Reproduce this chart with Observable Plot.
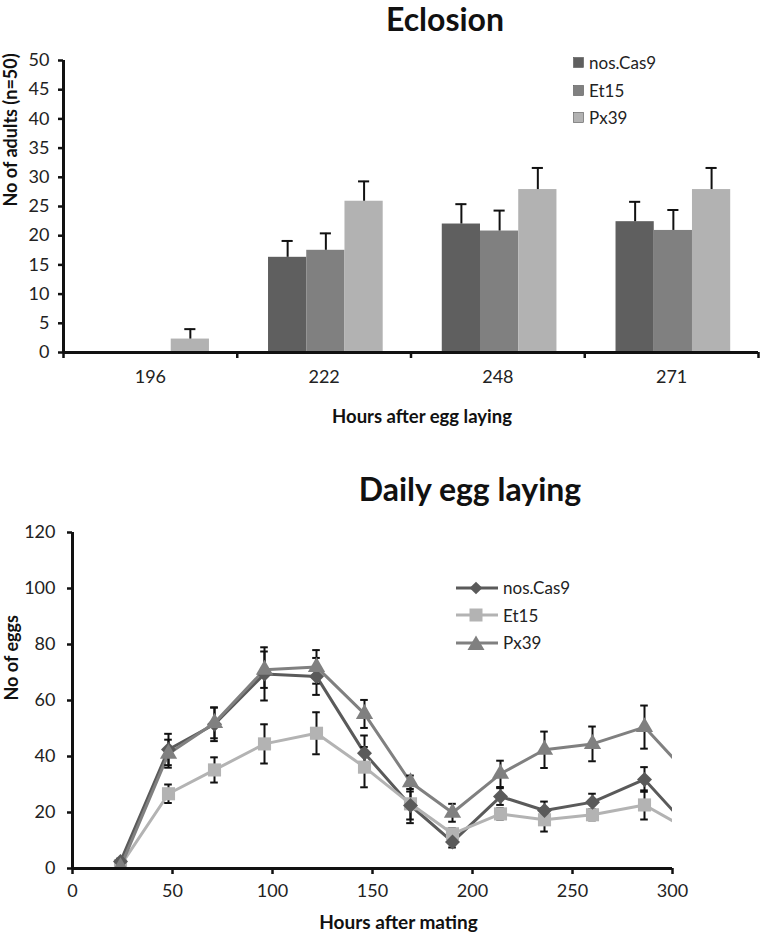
<!DOCTYPE html>
<html>
<head>
<meta charset="utf-8">
<script src="https://cdn.jsdelivr.net/npm/d3@7"></script>
<script src="https://cdn.jsdelivr.net/npm/@observablehq/plot@0.6"></script>
<style>
  body { margin: 0; background: #fff; font-family: Lato, "Open Sans", sans-serif; color: #222; }
  #wrap { position: relative; width: 763px; height: 940px; overflow: hidden; background: #fff; }
  .title { position: absolute; transform: translate(-50%, -50%); font-weight: bold; font-size: 32px; color: #111; white-space: nowrap; line-height: 1; }
  .chart { position: absolute; left: 0; }
  .legend { position: absolute; font-size: 17px; color: #222; }
  .legend .item { display: flex; align-items: center; height: 27.5px; }
  .legend svg { margin-right: 5px; }
</style>
</head>
<body>
<div id="wrap">
  <div id="top" class="chart" style="top:0;"></div>
  <div class="title" style="left:445px; top:19px;">Eclosion</div>
  <div id="legendTop" class="legend" style="left:573px; top:49px;"></div>
  <div id="bottom" class="chart" style="top:470px;"></div>
  <div class="title" style="left:470px; top:489px;">Daily egg laying</div>
  <div id="legendBottom" class="legend" style="left:456px; top:574px;"></div>
</div>
<script>
// ---------- Data: Eclosion ----------
const categories = ["196", "222", "248", "271"];
const seriesNames = ["nos.Cas9", "Et15", "Px39"];
const eclosionNos = [0, 16.3, 22.0, 22.4];
const eclosionEt15 = [0, 17.5, 20.8, 20.9];
const eclosionPx39 = [2.3, 25.9, 27.9, 27.9];
const eclosionNosErr = [0, 2.8, 3.4, 3.4];
const eclosionEt15Err = [0, 2.9, 3.5, 3.5];
const eclosionPx39Err = [1.7, 3.4, 3.7, 3.7];
const adultTicks = [0, 5, 10, 15, 20, 25, 30, 35, 40, 45, 50];

// ---------- Data: Daily egg laying ----------
const eggHours = [24, 48, 71, 96, 122, 146, 169, 190, 214, 236, 260, 286, 310];
const eggNos = [2.5, 42.5, 51.5, 69.5, 68.6, 41.2, 22.5, 9.5, 25.7, 20.7, 23.7, 31.8, 13];
const eggEt15 = [1, 26.7, 35.2, 44.5, 48.3, 36.2, 23.1, 12.4, 19.5, 17.4, 19.2, 22.7, 13];
const eggPx39 = [0.5, 41, 52, 71, 72, 55.2, 30.8, 19.9, 33.8, 42.4, 44.5, 50.5, 32];
const eggNosErr = [1, 5.6, 6, 9.5, 6.6, 6.3, 5, 2, 3, 3.2, 3, 4.4, 3];
const eggEt15Err = [1, 3.3, 4.5, 7, 7.5, 7.2, 6.9, 2, 2, 4.2, 2, 5.2, 3];
const eggPx39Err = [1, 5, 5.5, 6.5, 6, 5, 2.4, 3.2, 4.7, 6.5, 6.2, 7.7, 4];
const hourTicks = [0, 50, 100, 150, 200, 250, 300];
const eggTicks = [0, 20, 40, 60, 80, 100, 120];

// ---------- Styles ----------
const barColors = ["#5f5f5f", "#808080", "#b2b2b2"];
const lineColors = ["#5a5a5a", "#b3b3b3", "#808080"];
const FONT = "Lato, 'Open Sans', sans-serif";

// ---------- Eclosion chart ----------
const groupStart = 0.18, barW = 0.22, capHalf = 0.032;
const eclVals = [eclosionNos, eclosionEt15, eclosionPx39];
const eclErrs = [eclosionNosErr, eclosionEt15Err, eclosionPx39Err];
const bars = [];
categories.forEach((c, i) => {
  seriesNames.forEach((s, k) => {
    const x1 = i + groupStart + k * barW;
    bars.push({cat: c, s, v: eclVals[k][i], e: eclErrs[k][i], x1, x2: x1 + barW, xc: x1 + barW / 2});
  });
});
const shown = bars.filter(d => d.v > 0);

const topPlot = Plot.plot({
  width: 763, height: 445,
  marginLeft: 63, marginRight: 5, marginTop: 60, marginBottom: 93,
  style: {fontFamily: FONT, fontSize: "18px", color: "#222", background: "transparent"},
  x: {domain: [0, categories.length], axis: null},
  y: {domain: [0, 50], axis: null},
  color: {domain: seriesNames, range: barColors},
  marks: [
    Plot.rectY(shown, {x1: "x1", x2: "x2", y1: 0, y2: "v", fill: "s"}),
    Plot.ruleX(shown, {x: "xc", y1: "v", y2: d => d.v + d.e, stroke: "#111", strokeWidth: 2}),
    Plot.ruleY(shown, {x1: d => d.xc - capHalf, x2: d => d.xc + capHalf, y: d => d.v + d.e, stroke: "#111", strokeWidth: 2}),
    Plot.axisY({ticks: adultTicks, tickSize: 5, tickPadding: 9, strokeWidth: 2.5, label: null, fontSize: 18, stroke: "#111"}),
    Plot.axisX({ticks: d3.range(0, categories.length + 1), tickSize: 6, tickFormat: () => "", strokeWidth: 2.5, label: null, stroke: "#111"}),
    Plot.axisX({ticks: categories.map((c, i) => i + 0.5), tickSize: 0, tickPadding: 18, tickFormat: d => categories[Math.floor(d)], label: null, fontSize: 18}),
    Plot.ruleX([0], {stroke: "#111", strokeWidth: 3}),
    Plot.ruleY([0], {stroke: "#111", strokeWidth: 3}),
    Plot.text(["Hours after egg laying"], {frameAnchor: "bottom", dy: 70, dx: 11, fontWeight: "bold", fontSize: 18.5, fill: "#111"}),
    Plot.text(["No of adults (n=50)"], {frameAnchor: "left", rotate: -90, dx: -52, fontWeight: "bold", fontSize: 18, fill: "#111"})
  ]
});
document.getElementById("top").appendChild(topPlot);

// ---------- Daily egg laying chart ----------
const eggVals = [eggNos, eggEt15, eggPx39];
const eggErrs = [eggNosErr, eggEt15Err, eggPx39Err];
const eggs = [];
seriesNames.forEach((s, k) => {
  eggHours.forEach((h, i) => eggs.push({s, hour: h, v: eggVals[k][i], e: eggErrs[k][i]}));
});
const capH = 1.9;
const bySeries = s => eggs.filter(d => d.s === s);

const bottomPlot = Plot.plot({
  width: 763, height: 470,
  marginLeft: 72, marginRight: 91, marginTop: 62, marginBottom: 72,
  style: {fontFamily: FONT, fontSize: "18px", color: "#222", background: "transparent"},
  x: {domain: [0, 300], axis: null},
  y: {domain: [0, 120], axis: null},
  color: {domain: seriesNames, range: lineColors},
  marks: [
    Plot.line(eggs, {x: "hour", y: "v", z: "s", stroke: "s", strokeWidth: 3, clip: true}),
    Plot.ruleX(eggs, {x: "hour", y1: d => d.v - d.e, y2: d => d.v + d.e, stroke: "#111", strokeWidth: 2, clip: true}),
    Plot.ruleY(eggs, {x1: d => d.hour - capH, x2: d => d.hour + capH, y: d => d.v + d.e, stroke: "#111", strokeWidth: 2, clip: true}),
    Plot.ruleY(eggs, {x1: d => d.hour - capH, x2: d => d.hour + capH, y: d => d.v - d.e, stroke: "#111", strokeWidth: 2, clip: true}),
    Plot.dot(bySeries("Et15"), {x: "hour", y: "v", symbol: "square", r: 7.4, fill: "s", clip: true}),
    Plot.dot(bySeries("nos.Cas9"), {x: "hour", y: "v", symbol: "square", rotate: 45, r: 6, fill: "s", clip: true}),
    Plot.dot(bySeries("Px39"), {x: "hour", y: "v", symbol: "triangle", r: 6.4, fill: "s", clip: true}),
    Plot.axisY({ticks: eggTicks, tickSize: 5, tickPadding: 12, strokeWidth: 2.5, label: null, fontSize: 18, stroke: "#111"}),
    Plot.axisX({ticks: hourTicks, tickSize: 6, tickPadding: 10, strokeWidth: 2.5, label: null, fontSize: 18, stroke: "#111"}),
    Plot.ruleX([0], {stroke: "#111", strokeWidth: 3}),
    Plot.ruleY([0], {stroke: "#111", strokeWidth: 3}),
    Plot.text(["Hours after mating"], {frameAnchor: "bottom", dy: 60, dx: 26, fontWeight: "bold", fontSize: 19, fill: "#111"}),
    Plot.text(["No of eggs"], {frameAnchor: "left", rotate: -90, dx: -60, fontWeight: "bold", fontSize: 18, fill: "#111"})
  ]
});
document.getElementById("bottom").appendChild(bottomPlot);

// ---------- Legends ----------
const lt = document.getElementById("legendTop");
seriesNames.forEach((s, k) => {
  const item = document.createElement("div");
  item.className = "item";
  item.innerHTML = `<svg width="11" height="11"><rect x="0.5" y="0.5" width="10" height="10" fill="${barColors[k]}" stroke="#555" stroke-width="0.6"/></svg><span>${s}</span>`;
  lt.appendChild(item);
});
const lb = document.getElementById("legendBottom");
const legendSymbols = [
  c => `<rect x="15.5" y="5.5" width="9" height="9" fill="${c}" transform="rotate(45 20 10)"/>`,
  c => `<rect x="13.5" y="3.5" width="13" height="13" fill="${c}"/>`,
  c => `<polygon points="20,2.5 28.5,17 11.5,17" fill="${c}"/>`
];
seriesNames.forEach((s, k) => {
  const item = document.createElement("div");
  item.className = "item";
  item.innerHTML = `<svg width="42" height="20"><line x1="0" y1="10" x2="42" y2="10" stroke="${lineColors[k]}" stroke-width="3"/>${legendSymbols[k](lineColors[k])}</svg><span>${s}</span>`;
  lb.appendChild(item);
});
</script>
</body>
</html>
